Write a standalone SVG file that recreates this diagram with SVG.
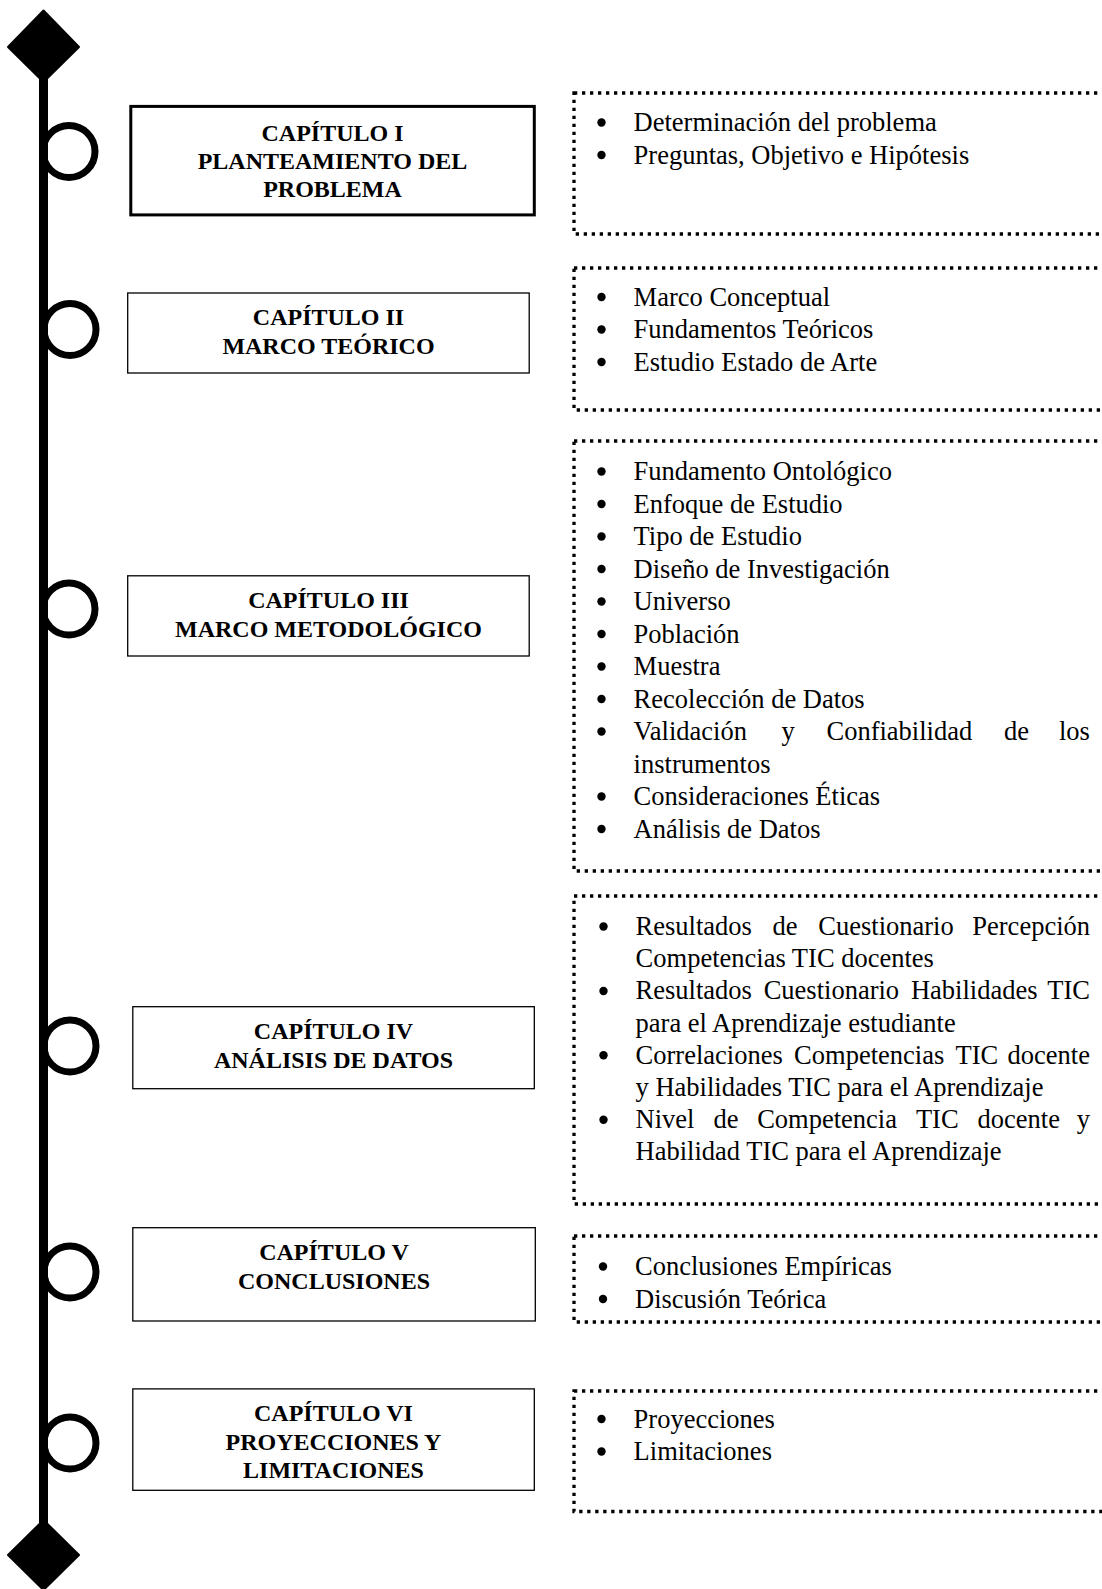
<svg xmlns="http://www.w3.org/2000/svg" width="1102" height="1589" viewBox="0 0 1102 1589">
<style>
.h{font-family:"Liberation Serif","Times New Roman",serif;font-weight:bold;font-size:24px;text-anchor:middle;fill:#000}
.t{font-family:"Liberation Serif","Times New Roman",serif;font-size:26.5px;fill:#000}
.e{text-anchor:end}
.box{fill:#fff;stroke:#000;stroke-width:1.3}
.thick{stroke-width:3}
.dot{fill:none;stroke:#000;stroke-width:3.3;stroke-dasharray:3.3 4.7}
.ring{fill:none;stroke:#000;stroke-width:7}
.bul{fill:#000}
</style>
<g id="connectors">
<line x1="43.5" y1="47" x2="43.5" y2="1555" stroke="#000" stroke-width="9"/>
<polygon points="43.5,10.5 79,47 43.5,82 8,47" fill="#000" stroke="#000" stroke-width="2" stroke-linejoin="round"/>
<polygon points="43.5,1520 79,1555 43.5,1590 8,1555" fill="#000" stroke="#000" stroke-width="2" stroke-linejoin="round"/>
<circle class="ring" cx="69" cy="151.5" r="26"/>
<circle class="ring" cx="70" cy="329.5" r="26"/>
<circle class="ring" cx="69" cy="609" r="26"/>
<circle class="ring" cx="70" cy="1046" r="26"/>
<circle class="ring" cx="70" cy="1272" r="26"/>
<circle class="ring" cx="70" cy="1443" r="26"/>
</g>
<g id="cap1">
<rect class="box thick" x="130.8" y="106.4" width="403.5" height="108.5"/>
<text class="h" x="332.5" y="141">CAPÍTULO I</text>
<text class="h" x="332.5" y="169">PLANTEAMIENTO DEL</text>
<text class="h" x="332.5" y="197">PROBLEMA</text>
</g>
<g id="cap2">
<rect class="box" x="127.7" y="293" width="401.5" height="80"/>
<text class="h" x="328.5" y="325">CAPÍTULO II</text>
<text class="h" x="328.5" y="353.5">MARCO TEÓRICO</text>
</g>
<g id="cap3">
<rect class="box" x="127.7" y="575.8" width="401.5" height="80.2"/>
<text class="h" x="328.5" y="608">CAPÍTULO III</text>
<text class="h" x="328.5" y="637">MARCO METODOLÓGICO</text>
</g>
<g id="cap4">
<rect class="box" x="132.8" y="1006.7" width="401.5" height="82"/>
<text class="h" x="333.5" y="1039">CAPÍTULO IV</text>
<text class="h" x="333.5" y="1068">ANÁLISIS DE DATOS</text>
</g>
<g id="cap5">
<rect class="box" x="132.8" y="1227.7" width="402.5" height="93.3"/>
<text class="h" x="334" y="1260">CAPÍTULO V</text>
<text class="h" x="334" y="1289">CONCLUSIONES</text>
</g>
<g id="cap6">
<rect class="box" x="132.8" y="1388.9" width="401.5" height="101.4"/>
<text class="h" x="333.5" y="1421">CAPÍTULO VI</text>
<text class="h" x="333.5" y="1449.5">PROYECCIONES Y</text>
<text class="h" x="333.5" y="1478">LIMITACIONES</text>
</g>
<g id="list1">
<rect class="dot" x="574" y="93" width="600" height="141"/>
<circle class="bul" cx="601.5" cy="122.5" r="4.2"/><text class="t" x="633.6" y="131">Determinación del problema</text>
<circle class="bul" cx="601.5" cy="155" r="4.2"/><text class="t" x="633.6" y="163.5">Preguntas, Objetivo e Hipótesis</text>
</g>
<g id="list2">
<rect class="dot" x="574" y="268" width="600" height="142"/>
<circle class="bul" cx="601.5" cy="297" r="4.2"/><text class="t" x="633.6" y="305.5">Marco Conceptual</text>
<circle class="bul" cx="601.5" cy="329.5" r="4.2"/><text class="t" x="633.6" y="338">Fundamentos Teóricos</text>
<circle class="bul" cx="601.5" cy="362" r="4.2"/><text class="t" x="633.6" y="370.5">Estudio Estado de Arte</text>
</g>
<g id="list3">
<rect class="dot" x="574" y="441" width="600" height="430"/>
<circle class="bul" cx="601.5" cy="471.5" r="4.2"/><text class="t" x="633.6" y="480">Fundamento Ontológico</text>
<circle class="bul" cx="601.5" cy="504" r="4.2"/><text class="t" x="633.6" y="512.5">Enfoque de Estudio</text>
<circle class="bul" cx="601.5" cy="536.5" r="4.2"/><text class="t" x="633.6" y="545">Tipo de Estudio</text>
<circle class="bul" cx="601.5" cy="569" r="4.2"/><text class="t" x="633.6" y="577.5">Diseño de Investigación</text>
<circle class="bul" cx="601.5" cy="601.5" r="4.2"/><text class="t" x="633.6" y="610">Universo</text>
<circle class="bul" cx="601.5" cy="634" r="4.2"/><text class="t" x="633.6" y="642.5">Población</text>
<circle class="bul" cx="601.5" cy="666.5" r="4.2"/><text class="t" x="633.6" y="675">Muestra</text>
<circle class="bul" cx="601.5" cy="699" r="4.2"/><text class="t" x="633.6" y="707.5">Recolección de Datos</text>
<circle class="bul" cx="601.5" cy="731.5" r="4.2"/>
<text class="t" y="740"><tspan x="633.6">Validación</tspan><tspan x="781.5">y</tspan><tspan x="826.5">Confiabilidad</tspan><tspan x="1004">de</tspan><tspan x="1059">los</tspan></text>
<text class="t" x="633.6" y="772.5">instrumentos</text>
<circle class="bul" cx="601.5" cy="796.5" r="4.2"/><text class="t" x="633.6" y="805">Consideraciones Éticas</text>
<circle class="bul" cx="601.5" cy="829" r="4.2"/><text class="t" x="633.6" y="837.5">Análisis de Datos</text>
</g>
<g id="list4">
<rect class="dot" x="574" y="896" width="600" height="308"/>
<circle class="bul" cx="603.5" cy="926.5" r="4.2"/>
<text class="t" y="935"><tspan x="635.6">Resultados</tspan><tspan x="772.6">de</tspan><tspan x="818.3">Cuestionario</tspan><tspan x="972.3">Percepción</tspan></text>
<text class="t" x="635.6" y="967.2">Competencias TIC docentes</text>
<circle class="bul" cx="603.5" cy="991" r="4.2"/>
<text class="t" y="999.4"><tspan x="635.6">Resultados</tspan><tspan x="763.7">Cuestionario</tspan><tspan x="910.9">Habilidades</tspan><tspan x="1047.3">TIC</tspan></text>
<text class="t" x="635.6" y="1031.6">para el Aprendizaje estudiante</text>
<circle class="bul" cx="603.5" cy="1055.3" r="4.2"/>
<text class="t" y="1063.8"><tspan x="635.6">Correlaciones</tspan><tspan x="794.1">Competencias</tspan><tspan x="955.5">TIC</tspan><tspan x="1007.6">docente</tspan></text>
<text class="t" x="635.6" y="1096">y Habilidades TIC para el Aprendizaje</text>
<circle class="bul" cx="603.5" cy="1119.7" r="4.2"/>
<text class="t" y="1128.2"><tspan x="635.6">Nivel</tspan><tspan x="713.4">de</tspan><tspan x="757.2">Competencia</tspan><tspan x="915.9">TIC</tspan><tspan x="977.5">docente</tspan><tspan x="1076.8">y</tspan></text>
<text class="t" x="635.6" y="1160.4">Habilidad TIC para el Aprendizaje</text>
</g>
<g id="list5">
<rect class="dot" x="574" y="1236" width="600" height="86"/>
<circle class="bul" cx="603" cy="1266.5" r="4.2"/><text class="t" x="635" y="1275">Conclusiones Empíricas</text>
<circle class="bul" cx="603" cy="1299" r="4.2"/><text class="t" x="635" y="1307.5">Discusión Teórica</text>
</g>
<g id="list6">
<rect class="dot" x="574" y="1391" width="600" height="120.5"/>
<circle class="bul" cx="601.5" cy="1419" r="4.2"/><text class="t" x="633.6" y="1427.5">Proyecciones</text>
<circle class="bul" cx="601.5" cy="1451.5" r="4.2"/><text class="t" x="633.6" y="1460">Limitaciones</text>
</g>
</svg>
